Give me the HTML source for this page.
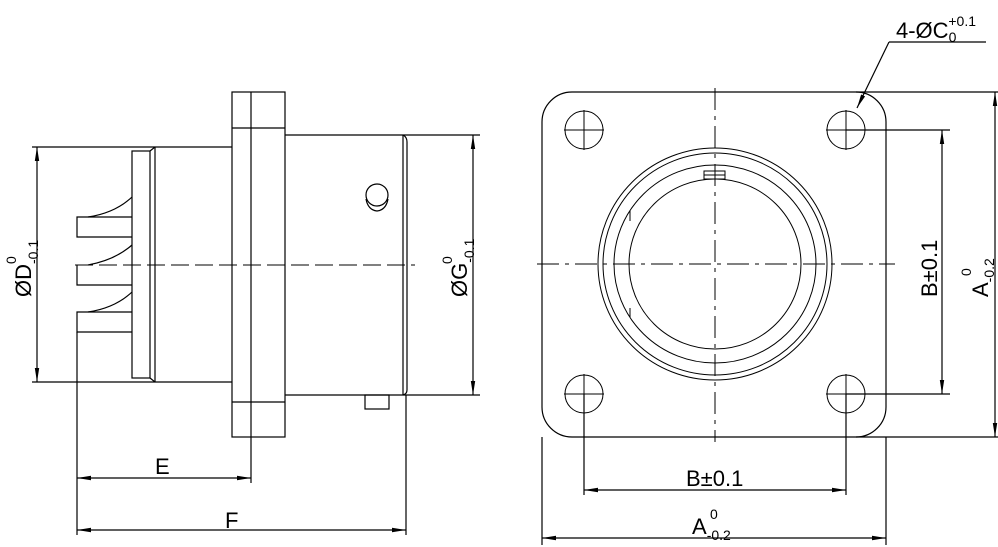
<!DOCTYPE html>
<html><head><meta charset="utf-8"><style>
body{margin:0;background:#fff}
svg{display:block}
text{font-family:"Liberation Sans",sans-serif;fill:#000}
</style></head><body>
<svg width="998" height="547" viewBox="0 0 998 547" xmlns="http://www.w3.org/2000/svg">
<defs>
<marker id="a" viewBox="0 0 14 6" refX="14" refY="3" markerWidth="14" markerHeight="6" markerUnits="userSpaceOnUse" orient="auto-start-reverse"><path d="M0,0.8 L14,3 L0,5.2 Z" fill="#000"/></marker>
</defs>
<g stroke="#000" stroke-width="1.2" fill="none">
<rect x="232" y="92" width="53" height="345"/>
<line x1="251" y1="92" x2="251" y2="483"/>
<line x1="232" y1="128" x2="285" y2="128"/>
<line x1="232" y1="402" x2="285" y2="402"/>
<line x1="285" y1="135" x2="480" y2="135"/>
<line x1="285" y1="395" x2="480" y2="395"/>
<line x1="403" y1="135" x2="403" y2="395"/>
<path d="M403,135 Q407,137 407,142 L407,390 Q407,394 403,395"/>
<line x1="406" y1="395" x2="406" y2="535"/>
<circle cx="377" cy="195" r="11"/>
<path d="M366,199 Q368,210 377,211 Q386,210 388,199"/>
<rect x="365" y="395" width="24" height="14"/>
<line x1="32" y1="147" x2="232" y2="147"/>
<line x1="32" y1="382" x2="232" y2="382"/>
<line x1="155" y1="147" x2="155" y2="382"/>
<rect x="132" y="151" width="18" height="227"/>
<line x1="150" y1="151" x2="155" y2="147"/>
<line x1="150" y1="378" x2="155" y2="382"/>
<path d="M132,237 L77,237 L77,217 L132,217"/>
<path d="M132,285 L77,285 L77,265"/>
<path d="M132,332 L77,332 L77,312 L132,312"/>
<line x1="77" y1="332" x2="77" y2="535"/>
<path d="M88,217 Q115,213 132,197"/>
<path d="M88,265 Q115,260 132,245"/>
<path d="M88,312 Q115,308 132,292"/>
<line x1="75" y1="265" x2="415" y2="265" stroke-dasharray="18,6" stroke-width="1"/>
<line x1="37" y1="147" x2="37" y2="382" marker-start="url(#a)" marker-end="url(#a)"/>
<line x1="473" y1="135" x2="473" y2="395" marker-start="url(#a)" marker-end="url(#a)"/>
<line x1="77" y1="478" x2="251" y2="478" marker-start="url(#a)" marker-end="url(#a)"/>
<line x1="77" y1="530" x2="406" y2="530" marker-start="url(#a)" marker-end="url(#a)"/>

<rect x="542" y="92" width="344" height="345" rx="30" ry="30"/>
<line x1="856" y1="92" x2="998" y2="92"/>
<line x1="856" y1="437" x2="998" y2="437"/>
<line x1="846" y1="130" x2="950" y2="130"/>
<line x1="846" y1="394" x2="950" y2="394"/>
<line x1="584" y1="394" x2="584" y2="495"/>
<line x1="846" y1="394" x2="846" y2="495"/>
<line x1="542" y1="437" x2="542" y2="545"/>
<line x1="886" y1="437" x2="886" y2="545"/>
<g stroke-width="1">
<circle cx="584" cy="130" r="19"/><circle cx="846" cy="130" r="19"/>
<circle cx="584" cy="394" r="19"/><circle cx="846" cy="394" r="19"/>
<path d="M564,130h40M584,110v40M826,130h40M846,110v40M564,394h40M584,374v40M826,394h40M846,374v40"/>
<ellipse cx="715" cy="264" rx="117" ry="116"/>
<ellipse cx="715" cy="264" rx="112" ry="111"/>
<ellipse cx="715" cy="264" rx="101" ry="99"/>
<ellipse cx="715" cy="264" rx="86" ry="85"/>
<path d="M630,211 L630,221 M630,308 L630,317"/>
<rect x="704" y="171" width="21" height="8"/>
<line x1="704" y1="175" x2="725" y2="175"/>
</g>
<line x1="537" y1="264" x2="895" y2="264" stroke-dasharray="22,6,4,6" stroke-width="1"/>
<line x1="715" y1="88" x2="715" y2="442" stroke-dasharray="22,6,4,6" stroke-width="1"/>
<line x1="942" y1="130" x2="942" y2="394" marker-start="url(#a)" marker-end="url(#a)"/>
<line x1="995" y1="92" x2="995" y2="437" marker-start="url(#a)" marker-end="url(#a)"/>
<line x1="584" y1="490" x2="846" y2="490" marker-start="url(#a)" marker-end="url(#a)"/>
<line x1="542" y1="538" x2="886" y2="538" marker-start="url(#a)" marker-end="url(#a)"/>
<line x1="986" y1="42" x2="889" y2="42"/>
<line x1="889" y1="42" x2="857" y2="108" marker-end="url(#a)"/>
</g>
<text transform="translate(31,297) rotate(-90)" font-size="22">ØD<tspan font-size="14" dy="7">-0.1</tspan></text>
<text transform="translate(16,264) rotate(-90)" font-size="14">0</text>
<text transform="translate(467,297) rotate(-90)" font-size="22">ØG<tspan font-size="14" dy="7">-0.1</tspan></text>
<text transform="translate(452,264) rotate(-90)" font-size="14">0</text>
<text x="155" y="474" font-size="22">E</text>
<text x="225" y="528" font-size="22">F</text>
<text x="686" y="486" font-size="22">B±0.1</text>
<text x="692" y="534" font-size="22">A<tspan font-size="14" dy="6">-0.2</tspan></text>
<text x="710" y="519" font-size="14">0</text>
<text transform="translate(937,297) rotate(-90)" font-size="22">B±0.1</text>
<text transform="translate(988,297) rotate(-90)" font-size="22">A<tspan font-size="14" dy="6">-0.2</tspan></text>
<text transform="translate(971,276) rotate(-90)" font-size="14">0</text>
<text x="896" y="38" font-size="22">4-ØC<tspan font-size="14" dy="4">0</tspan><tspan font-size="14" dx="-8" dy="-16">+0.1</tspan></text>
</svg>
</body></html>
